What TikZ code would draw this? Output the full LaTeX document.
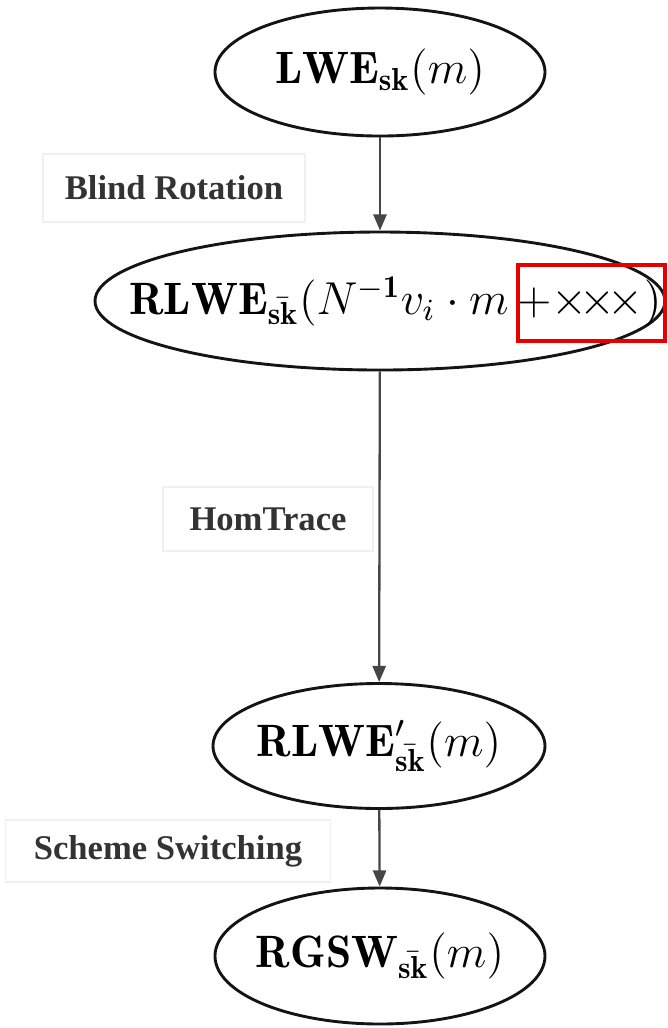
\documentclass[tikz,border=0pt]{standalone}
\usepackage{amsmath,amssymb}
\usepackage{fontspec}
\usepackage{xcolor}
\usepackage{tikz}
\usetikzlibrary{arrows.meta,shapes.geometric}
\newfontfamily\labfont{Liberation Serif}
\definecolor{figline}{RGB}{20,20,20}
\definecolor{figarrow}{RGB}{70,70,70}
\definecolor{figbox}{RGB}{240,240,240}
\definecolor{figmark}{RGB}{230,0,0}
\newcommand{\ctx}[1]{\makebox[0pt]{$#1$}}
\tikzset{
  ct/.style  ={ellipse, draw=figline, line width=0.75pt, inner sep=0pt,
               font=\fontsize{11.8}{13}\selectfont},
  op/.style  ={draw=figbox, line width=0.3pt, inner sep=0pt,
               font=\labfont\bfseries\fontsize{9}{11}\selectfont, text=black!80},
  flow/.style={draw=figarrow, line width=0.6pt, -{Triangle[length=4.2pt,width=3.4pt]}},
}

\begin{document}
\begin{tikzpicture}[x=0.26pt,y=-0.26pt]
  \useasboundingbox (0,0) rectangle (668,1028);
  % ciphertexts
  \node[ct,minimum width=330*0.26pt,minimum height=128*0.26pt] (lwe) at (380,72)
    {\ctx{\mathbf{LWE}_{\mathbf{sk}}(m)}};
  \node[ct,minimum width=570*0.26pt,minimum height=138*0.26pt] (rlwe) at (380,301)
    {\ctx{\hspace{8pt}\mathbf{RLWE}_{\bar{\mathbf{sk}}}(N^{\mathbf{-1}}v_i\cdot m\,{+}{\times}\!{\times}\!{\times})}};
  \node[ct,minimum width=332*0.26pt,minimum height=125*0.26pt] (rlwep) at (379,746)
    {\ctx{\mathbf{RLWE}'_{\bar{\mathbf{sk}}}(m)}};
  \node[ct,minimum width=330*0.26pt,minimum height=136*0.26pt] (rgsw) at (380,956)
    {\ctx{\mathbf{RGSW}_{\bar{\mathbf{sk}}}(m)}};
  % operations
  \draw[flow] (lwe) -- (rlwe);
  \draw[flow] (rlwe) -- (rlwep);
  \draw[flow] (rlwep) -- (rgsw);
  \node[op,minimum width=262*0.26pt,minimum height=68*0.26pt] (br) at (174,188) {Blind Rotation};
  \node[op,minimum width=210*0.26pt,minimum height=64*0.26pt] (ht) at (268,519) {HomTrace};
  \node[op,minimum width=325*0.26pt,minimum height=62*0.26pt] (ss) at (168,851) {Scheme Switching};
  % highlight
  \draw[figmark,line width=0.8pt] (518,265) rectangle (665,341);
\end{tikzpicture}
\end{document}
